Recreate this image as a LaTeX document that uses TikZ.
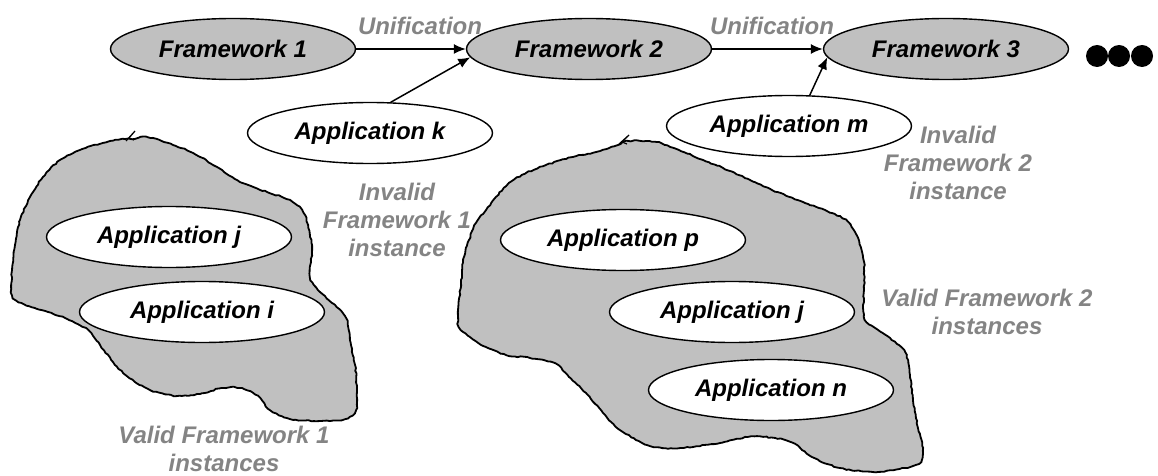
\documentclass[tikz,border=0pt]{standalone}
\usepackage{fontspec}
\setmainfont{Liberation Sans}
\usetikzlibrary{shapes.geometric,arrows.meta,decorations.pathmorphing}
\definecolor{silverfill}{RGB}{192,192,192}
\definecolor{labelgray}{RGB}{132,132,132}
\begin{document}
\begin{tikzpicture}[x=1pt,y=-1pt,
  font=\fontsize{24}{28}\selectfont\bfseries\itshape,
  fwk/.style={ellipse,draw=black,line width=1.4pt,fill=silverfill,minimum width=245pt,minimum height=61pt,inner sep=0pt},
  app/.style={ellipse,draw=black,line width=1.4pt,fill=white,minimum width=245pt,minimum height=61pt,inner sep=0pt},
  lbl/.style={text=labelgray,align=center,inner sep=0pt},
  arr/.style={-{Latex[length=12pt,width=10pt]},line width=1.5pt},
  blob/.style={draw=black,fill=silverfill,line width=1.8pt,decorate,decoration={random steps,segment length=3pt,amplitude=0.6pt}},
  dotnode/.style={circle,fill=black,minimum size=22pt,inner sep=0pt}
]
\useasboundingbox (0,0) rectangle (1158,476);

% blobs
\draw[blob] plot[smooth cycle,tension=0.5] coordinates {(132,139) (147,137) (173,145) (193,153) (217,167) (240,182) (267,192) (290,200) (302,210) (308,225) (312,250) (310,277) (320,292) (335,305) (346,318) (350,340) (355,365) (357,390) (356,410) (345,419) (320,421) (290,419) (270,410) (258,396) (240,388) (222,388) (200,394) (177,396) (150,390) (128,377) (113,362) (100,345) (88,330) (65,318) (35,308) (13,298) (12,270) (15,245) (20,220) (30,197) (43,177) (60,160) (80,150) (110,141) (125,139)};
\draw[line width=1.2pt] (126,141) -- (135,131) -- (129,138) -- (134,140);

\draw[blob] plot[smooth cycle,tension=0.5] coordinates {(628,141) (656,142) (679,150) (703,160) (723,168) (750,180) (772,190) (805,203) (832,213) (848,222) (858,238) (864,262) (864,290) (864,317) (875,328) (890,338) (905,352) (910,375) (913,400) (918,428) (923,448) (921,462) (905,468) (873,472) (840,468) (812,457) (795,444) (775,438) (748,437) (720,443) (680,448) (650,446) (620,430) (603,413) (586,393) (569,377) (556,364) (530,358) (506,355) (486,347) (470,337) (459,327) (458,310) (461,283) (464,257) (469,240) (476,223) (486,210) (496,197) (509,183) (526,173) (546,165) (573,157) (600,151) (618,145)};
\draw[line width=1.2pt] (619,144) -- (629,135) -- (622,142) -- (627,144);

% applications
\node[app] (appk) at (370,133) {Application k};
\node[app] (appm) at (789,126) {Application m};
\node[app] (appj1) at (169,237) {Application j};
\node[app] (appi) at (202,312) {Application i};
\node[app] (appp) at (623,240) {Application p};
\node[app] (appj2) at (732,312) {Application j};
\node[app] (appn) at (771,390) {Application n};

% frameworks
\node[fwk] (f1) at (233,49) {Framework 1};
\node[fwk] (f2) at (589,49) {Framework 2};
\node[fwk] (f3) at (946,49) {Framework 3};

% connectors
\draw[arr] (f1) -- (f2);
\draw[arr] (f2) -- (f3);
\draw[arr] (appk.56) -- (f2.184);
\draw[arr] (appm.56) -- (f3.184);

% labels
\node[lbl] (u1) at (420,26) {Unification};
\node[lbl] (u2) at (772,26) {Unification};
\node[lbl] (inv1) at (397,220) {Invalid\\Framework 1\\instance};
\node[lbl] (inv2) at (958,163) {Invalid\\Framework 2\\instance};
\node[lbl] (val1) at (224,449) {Valid Framework 1\\instances};
\node[lbl] (val2) at (987,312) {Valid Framework 2\\instances};

% dots
\node[dotnode] (d1) at (1097,56) {};
\node[dotnode] (d2) at (1119,56) {};
\node[dotnode] (d3) at (1142,56) {};
\end{tikzpicture}
\end{document}
